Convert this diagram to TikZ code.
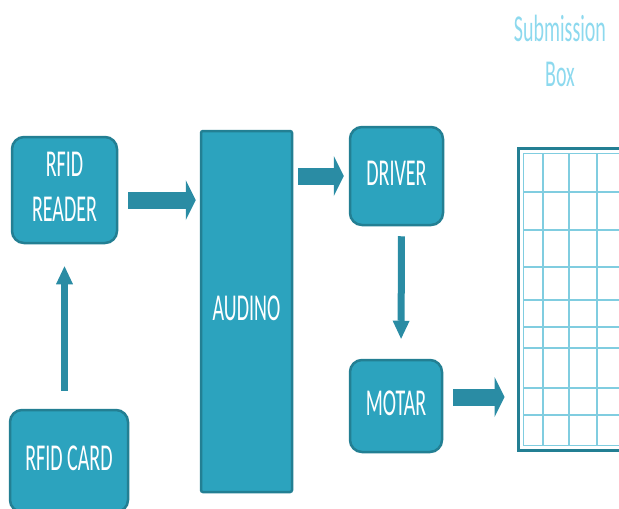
\documentclass[tikz,border=0pt]{standalone}
\usepackage{fontspec}
\setmainfont{Carlito}
\usepackage{graphicx}
\usepackage{xcolor}
\usetikzlibrary{arrows.meta,positioning,calc}

\definecolor{blockfill}{HTML}{2CA3BE}
\definecolor{blockedge}{HTML}{237F93}
\definecolor{arrowcol}{HTML}{2A8CA4}
\definecolor{gridcol}{HTML}{80CDE0}
\definecolor{labelcol}{HTML}{8DD9EE}

\newcommand{\talltext}[1]{\scalebox{1}[1.9]{\begin{tabular}{@{}c@{}}#1\end{tabular}}}

\begin{document}
\begin{tikzpicture}[x=1pt, y=-1pt,
        block/.style={draw=blockedge, line width=2.5pt, fill=blockfill, rounded corners=12pt,
                      inner sep=0pt, text=white, font=\fontsize{20}{24}\selectfont},
        tallblock/.style={block, rounded corners=2pt},
        fatarrow/.style={draw=arrowcol, line width=17pt,
                         -{Triangle[length=10pt, width=40pt, line width=0pt]}},
        thinarrow/.style={draw=arrowcol, line width=7pt,
                          -{Triangle[length=18pt, width=17pt, line width=0pt]}},
        boxframe/.style={draw=blockedge, line width=3pt, fill=white, inner sep=0pt},
    ]
        \useasboundingbox (0,0) rectangle (619,509);

        \node[block, minimum width=105pt, minimum height=106pt] (reader) at (64.5,190) {\talltext{RFID\\READER}};
        \node[block, minimum width=118pt, minimum height=102pt] (card)   at (69,461)   {\talltext{RFID CARD}};
        \node[tallblock, minimum width=91pt, minimum height=361pt] (audino) at (246.5,311.5) {\talltext{AUDINO}};
        \node[block, minimum width=93pt, minimum height=98pt]  (driver) at (396.5,176) {\talltext{DRIVER}};
        \node[block, minimum width=92pt, minimum height=92pt]  (motar)  at (396,406)   {\talltext{MOTAR}};

        % submission box with its grid
        \node[boxframe, minimum width=106pt, minimum height=302pt] (subbox) at (571,299) {};
        \foreach \gx in {543,569,597}
            \draw[gridcol, line width=1.2pt] (\gx,153) -- (\gx,445);
        \foreach \gy in {192,230,267,300,327,348,388,415}
            \draw[gridcol, line width=1.2pt] (523,\gy) -- (619,\gy);
        \draw[gridcol, line width=1pt] (523,153) rectangle (626,445);
        \node[text=labelcol, font=\fontsize{20}{24}\selectfont] (sublabel) at (560,55) {\talltext{Submission\\Box}};

        \draw[thinarrow, shorten <=18pt, shorten >=22pt] (reader.south |- card.north) -- (reader.south);
        \draw[fatarrow, shorten <=10pt, shorten >=4pt] ([yshift=-10pt]reader.east) -- ([yshift=-10pt]audino.west |- reader.east);
        \draw[fatarrow, shorten <=5pt, shorten >=5pt] (audino.east |- driver.west) -- (driver.west);
        \draw[thinarrow, shorten <=10pt, shorten >=20pt] ([xshift=5pt]driver.south) -- ([xshift=5pt]motar.north);
        \draw[fatarrow, shorten <=10pt, shorten >=12pt] ([yshift=9pt]motar.east) -- ([yshift=9pt]subbox.west |- motar.east);
    \end{tikzpicture}
\end{document}
